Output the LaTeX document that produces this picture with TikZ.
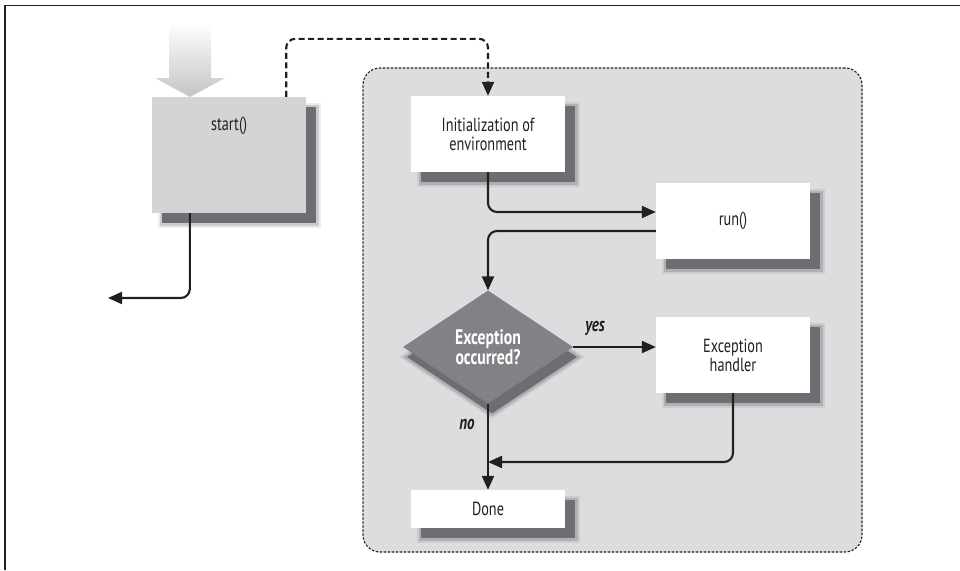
\documentclass[tikz,border=0pt]{standalone}
\usepackage{fontspec}
\setmainfont[FakeStretch=0.75]{PT Sans}
\usetikzlibrary{arrows.meta,shapes.geometric,shadows,calc}

\definecolor{ink}{HTML}{231F20}
\definecolor{areafill}{HTML}{DCDDDF}
\definecolor{startfill}{HTML}{D3D4D6}
\definecolor{decisionfill}{HTML}{808285}
\definecolor{shadowcol}{HTML}{6D6E71}
\definecolor{entryshade}{HTML}{C3C4C6}

\tikzset{
  softshadow/.style 2 args={
    general shadow={draw=black, line width=9pt, opacity=0.07, shadow xshift=#1, shadow yshift=#2},
    general shadow={draw=black, line width=5pt, opacity=0.14, shadow xshift=#1, shadow yshift=#2},
    general shadow={fill=shadowcol, shadow xshift=#1, shadow yshift=#2}
  },
  txt/.style={font=\fontsize{19}{19}\selectfont, text=ink, inner sep=0pt, align=center},
  box/.style={rectangle, fill=white, minimum width=154pt, minimum height=76pt,
    inner sep=0pt, align=center, font=\fontsize{19}{19}\selectfont, text=ink,
    softshadow={10pt}{-10pt}},
  decision/.style={diamond, fill=decisionfill, minimum width=170pt, minimum height=113pt,
    inner sep=0pt, aspect=1.5, align=center, text=white,
    font=\fontsize{21}{19.5}\selectfont\bfseries, softshadow={4pt}{-10pt}},
  conn/.style={draw=ink, line width=2.1pt, rounded corners=9pt,
    -{Triangle[length=14pt,width=12pt]}},
  dashconn/.style={conn, dash pattern=on 6pt off 3.5pt},
  area/.style={draw=ink, fill=areafill, line width=1.1pt, rounded corners=17pt,
    dash pattern=on 2.4pt off 1.6pt},
  answer/.style={font=\fontsize{20}{20}\selectfont\bfseries\itshape, text=ink, inner sep=0pt}
}

\begin{document}
\begin{tikzpicture}[x=1pt,y=-1pt]
\useasboundingbox (0,0) rectangle (960,570);

% page frame (top and left rules)
\draw[line width=1.3pt, draw=ink] (5,570) -- (5,5.5) -- (960,5.5);

% shaded region of the thread body
\node[area, minimum width=499pt, minimum height=484pt] (area) at (612.5,310) {};

% incoming block arrow
\shade[top color=white, bottom color=entryshade]
  (169,22) -- (211,22) -- (211,78) -- (225,78) -- (190,97) -- (155,78) -- (169,78) -- cycle;

% nodes
\node[box, fill=startfill, minimum height=116pt] (start) at (229,155) {};
\node[txt] (startlabel) at (229,126) {start()};
\node[box] (init) at (488,134) {Initialization of\\environment};
\node[box] (run) at (733,221) {run()};
\node[decision] (decide) at (488,347) {Exception\\occurred?};
\node[box] (handler) at (733,355) {Exception\\handler};
\node[box, minimum height=38pt] (done) at (488,509) {Done};

\coordinate (exit) at (108,298);
\coordinate (merge) at (488,462);

% connectors
\draw[conn] ([xshift=38pt]start.south west) |- (exit);
\draw[dashconn] ([xshift=-20pt]start.north east) -- ++(0,-58) -| (init.north);
\draw[conn] (init.south) |- ([yshift=9pt]run.west);
\draw[conn] ([yshift=-10pt]run.west) -| (decide.north);
\draw[conn] (decide.east) -- (decide.east -| handler.west);
\draw[conn] (decide.south) -- (done.north);
\draw[conn] (handler.south) |- (merge);

% branch labels
\node[answer] (yeslabel) at (595,328) {yes};
\node[answer] (nolabel) at (467,424) {no};
\end{tikzpicture}
\end{document}
